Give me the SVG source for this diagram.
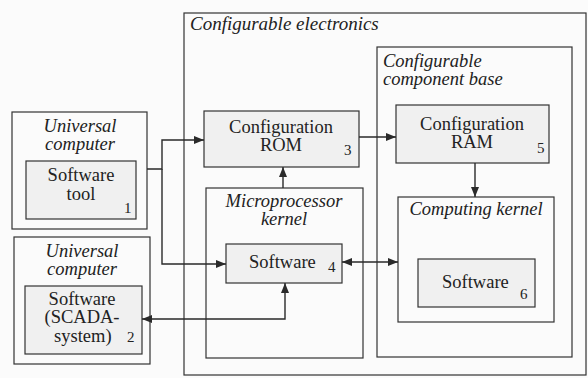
<svg xmlns="http://www.w3.org/2000/svg" width="588" height="378" viewBox="0 0 588 378">
<defs>
<marker id="ah" viewBox="0 0 10 10" refX="10" refY="5" markerWidth="10" markerHeight="10" markerUnits="userSpaceOnUse" orient="auto-start-reverse">
<path d="M0,1 L10,5 L0,9 Z" fill="#2a2a2a"/>
</marker>
</defs>
<rect x="0" y="0" width="588" height="378" fill="#fbfbfb"/>
<g id="configurable-electronics">
<rect x="184" y="13" width="402" height="362" fill="#fbfbfb" stroke="#333" stroke-width="1.2"/>
<text x="190" y="30" font-family="Liberation Serif" font-style="italic" font-size="19" fill="#222">Configurable electronics</text>
</g>
<g id="universal-computer-1">
<rect x="12" y="112" width="135" height="117" fill="#fbfbfb" stroke="#333" stroke-width="1.2"/>
<text x="80" y="132" text-anchor="middle" font-family="Liberation Serif" font-style="italic" font-size="18.5" fill="#222">Universal</text>
<text x="80" y="150" text-anchor="middle" font-family="Liberation Serif" font-style="italic" font-size="18.5" fill="#222">computer</text>
</g>
<g id="software-tool">
<rect x="26" y="161" width="110" height="58" fill="#f0f0f0" stroke="#333" stroke-width="1.2"/>
<text x="81" y="181" text-anchor="middle" font-family="Liberation Serif" font-size="18.5" fill="#222">Software</text>
<text x="81" y="200" text-anchor="middle" font-family="Liberation Serif" font-size="18.5" fill="#222">tool</text>
<text x="124" y="213" font-family="Liberation Serif" font-size="15" fill="#222">1</text>
</g>
<g id="universal-computer-2">
<rect x="14" y="237" width="136" height="127" fill="#fbfbfb" stroke="#333" stroke-width="1.2"/>
<text x="82" y="257" text-anchor="middle" font-family="Liberation Serif" font-style="italic" font-size="18.5" fill="#222">Universal</text>
<text x="82" y="275" text-anchor="middle" font-family="Liberation Serif" font-style="italic" font-size="18.5" fill="#222">computer</text>
</g>
<g id="software-scada">
<rect x="25" y="286" width="117" height="68" fill="#f0f0f0" stroke="#333" stroke-width="1.2"/>
<text x="82" y="305" text-anchor="middle" font-family="Liberation Serif" font-size="18.5" fill="#222">Software</text>
<text x="82" y="323" text-anchor="middle" font-family="Liberation Serif" font-size="18.5" fill="#222">(SCADA-</text>
<text x="54" y="342" font-family="Liberation Serif" font-size="18.5" fill="#222">system)</text>
<text x="127" y="342" font-family="Liberation Serif" font-size="15" fill="#222">2</text>
</g>
<g id="configuration-rom">
<rect x="204" y="111" width="155" height="56" fill="#f0f0f0" stroke="#333" stroke-width="1.2"/>
<text x="281" y="133" text-anchor="middle" font-family="Liberation Serif" font-size="18.5" fill="#222">Configuration</text>
<text x="281" y="151" text-anchor="middle" font-family="Liberation Serif" font-size="18.5" fill="#222">ROM</text>
<text x="344" y="155" font-family="Liberation Serif" font-size="15" fill="#222">3</text>
</g>
<g id="microprocessor-kernel">
<rect x="206" y="188" width="157" height="170" fill="#fbfbfb" stroke="#333" stroke-width="1.2"/>
<text x="284" y="207" text-anchor="middle" font-family="Liberation Serif" font-style="italic" font-size="18.5" fill="#222">Microprocessor</text>
<text x="284" y="225" text-anchor="middle" font-family="Liberation Serif" font-style="italic" font-size="18.5" fill="#222">kernel</text>
</g>
<g id="software-4">
<rect x="226" y="244" width="116" height="39" fill="#f0f0f0" stroke="#333" stroke-width="1.2"/>
<text x="249" y="268" font-family="Liberation Serif" font-size="18.5" fill="#222">Software</text>
<text x="328" y="272" font-family="Liberation Serif" font-size="15" fill="#222">4</text>
</g>
<g id="configurable-component-base">
<rect x="377" y="47" width="195" height="310" fill="#fbfbfb" stroke="#333" stroke-width="1.2"/>
<text x="383" y="67" font-family="Liberation Serif" font-style="italic" font-size="18.5" fill="#222">Configurable</text>
<text x="383" y="85" font-family="Liberation Serif" font-style="italic" font-size="18.5" fill="#222">component base</text>
</g>
<g id="configuration-ram">
<rect x="396" y="105" width="153" height="58" fill="#f0f0f0" stroke="#333" stroke-width="1.2"/>
<text x="472" y="130" text-anchor="middle" font-family="Liberation Serif" font-size="18.5" fill="#222">Configuration</text>
<text x="472" y="148" text-anchor="middle" font-family="Liberation Serif" font-size="18.5" fill="#222">RAM</text>
<text x="537" y="153" font-family="Liberation Serif" font-size="15" fill="#222">5</text>
</g>
<g id="computing-kernel">
<rect x="398" y="197" width="156" height="125" fill="#fbfbfb" stroke="#333" stroke-width="1.2"/>
<text x="476" y="215" text-anchor="middle" font-family="Liberation Serif" font-style="italic" font-size="18.5" fill="#222">Computing kernel</text>
</g>
<g id="software-6">
<rect x="418" y="259" width="117" height="48" fill="#f0f0f0" stroke="#333" stroke-width="1.2"/>
<text x="442" y="288" font-family="Liberation Serif" font-size="18.5" fill="#222">Software</text>
<text x="520" y="299" font-family="Liberation Serif" font-size="15" fill="#222">6</text>
</g>
<g id="connectors" fill="none" stroke="#2a2a2a" stroke-width="1.4">
<path d="M147,169 H162 V140 H204" marker-end="url(#ah)"/>
<path d="M162,169 V264 H226" marker-end="url(#ah)"/>
<path d="M359,137 H396" marker-end="url(#ah)"/>
<path d="M283,188 V167" marker-end="url(#ah)"/>
<path d="M475,163 V197" marker-end="url(#ah)"/>
<path d="M342,262 H398" marker-start="url(#ah)" marker-end="url(#ah)"/>
<path d="M142,319 H285 V283" marker-start="url(#ah)" marker-end="url(#ah)"/>
</g>
</svg>
